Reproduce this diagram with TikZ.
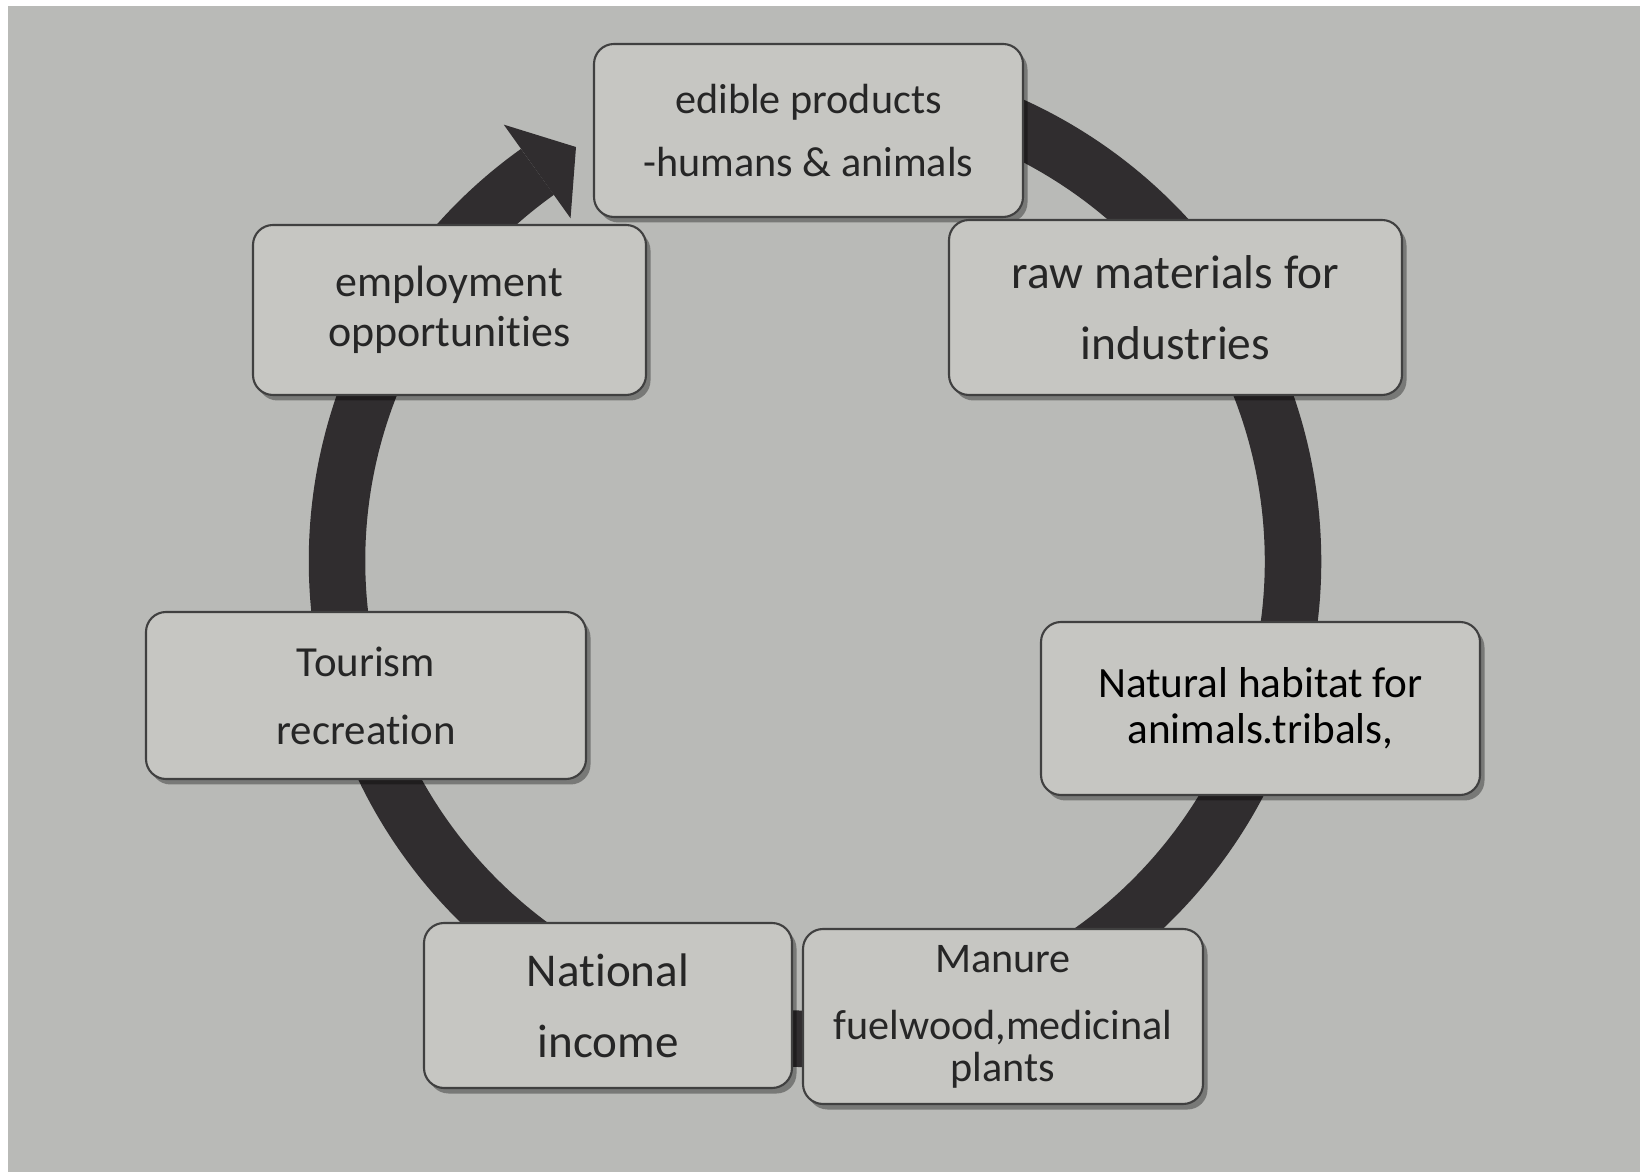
\documentclass[tikz,border=0pt]{standalone}
\usepackage{fontspec}
\setmainfont{Carlito}[Ligatures=CommonOff]
\usetikzlibrary{shadows}

\definecolor{paper}{RGB}{185,186,183}
\definecolor{boxfill}{RGB}{198,198,194}
\definecolor{ink}{RGB}{48,45,47}

\begin{document}
\begin{tikzpicture}

    \fill[white] (0,0) rectangle (16.4,11.72);
    \fill[paper] (0.08,0) rectangle (16.4,11.66);
    \useasboundingbox (0,0) rectangle (16.4,11.72);

    \coordinate (0) at (8.15,6.11);

    % the cycle arrow behind the boxes
    \begin{scope}[ink]
        \draw[line width=5.65mm] (0) ++(95:4.78) arc[start angle=95, end angle=-234.5, radius=4.78];
        \fill[shift={(0)}] (125.5:5.36) -- (120:4.78) -- (125.5:4.21) -- cycle;
    \end{scope}

    \begin{scope}[every node/.style={draw=black!75, line width=0.6pt, rounded corners=2mm, fill=boxfill, text=black!85, align=center, inner sep=0pt,
                  drop shadow={shadow xshift=0.45mm, shadow yshift=-0.55mm, fill=black, opacity=0.35}}]
        \node[minimum width=4.29cm, minimum height=1.73cm, font=\fontsize{12}{17.9}\selectfont] (1) at (8.085,10.415) {edible products\\-humans \& animals};
        \node[minimum width=4.53cm, minimum height=1.75cm, font=\fontsize{13.5}{20.2}\selectfont] (2) at (11.755,8.645) {raw materials for\\industries};
        \node[minimum width=4.39cm, minimum height=1.73cm, font=\fontsize{12.3}{13.1}\selectfont, text=black] (3) at (12.605,4.635) {Natural habitat for\\animals.tribals,};
        \node[minimum width=4.00cm, minimum height=1.75cm, font=\fontsize{12}{11.7}\selectfont] (4) at (10.03,1.555) {Manure\\[7.6pt]fuelwood,medicinal\\plants};
        \node[minimum width=3.68cm, minimum height=1.65cm, font=\fontsize{13.4}{20.2}\selectfont] (5) at (6.08,1.665) {National\\income};
        \node[minimum width=4.40cm, minimum height=1.67cm, font=\fontsize{12.2}{19.3}\selectfont] (6) at (3.66,4.765) {Tourism\\recreation};
        \node[minimum width=3.93cm, minimum height=1.70cm, font=\fontsize{12.5}{14.2}\selectfont] (7) at (4.495,8.62) {employment\\opportunities};
    \end{scope}

\end{tikzpicture}
\end{document}
